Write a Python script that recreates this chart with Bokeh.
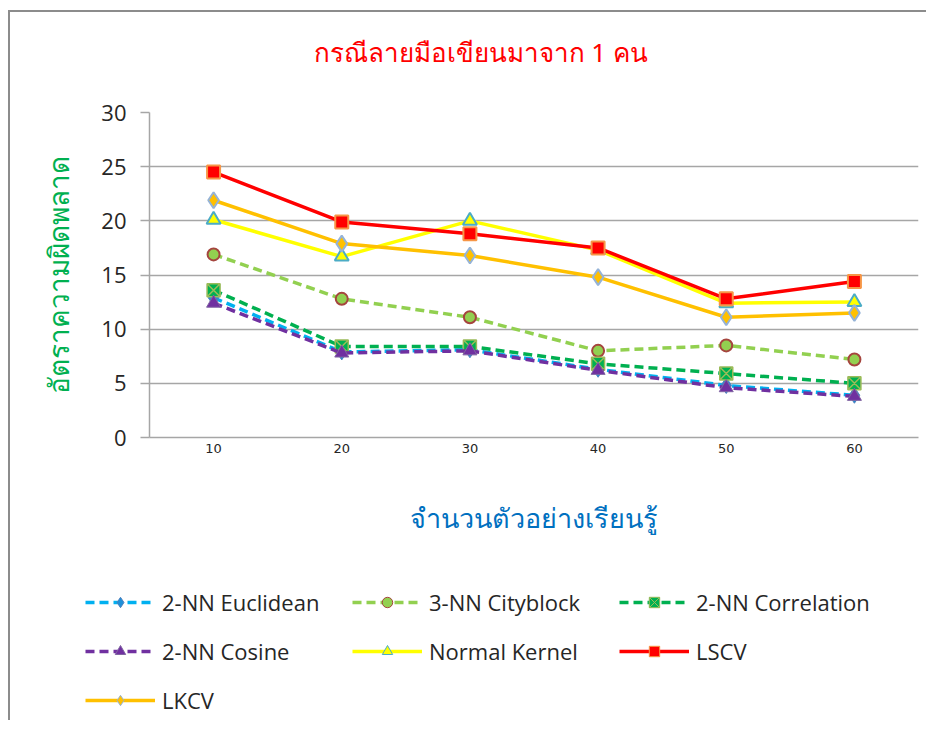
from bokeh.plotting import figure
from bokeh.models import Legend, LegendItem, Range1d, FixedTicker, Title
from bokeh.embed import file_html
from bokeh.resources import INLINE

# ---- data ----
samples = [10, 20, 30, 40, 50, 60]
euclidean_2nn = [12.9, 7.9, 8.1, 6.3, 4.8, 3.9]
cityblock_3nn = [16.9, 12.8, 11.1, 8.0, 8.5, 7.2]
correlation_2nn = [13.6, 8.4, 8.4, 6.8, 5.9, 5.0]
cosine_2nn = [12.4, 7.8, 8.0, 6.2, 4.6, 3.8]
normal_kernel = [20.1, 16.7, 20.0, 17.3, 12.4, 12.5]
lscv = [24.5, 19.9, 18.8, 17.5, 12.8, 14.4]
lkcv = [21.9, 17.9, 16.8, 14.8, 11.1, 11.5]

series_names = ["2-NN Euclidean", "3-NN Cityblock", "2-NN Correlation",
                "2-NN Cosine", "Normal Kernel", "LSCV", "LKCV"]
series_values = [euclidean_2nn, cityblock_3nn, correlation_2nn,
                 cosine_2nn, normal_kernel, lscv, lkcv]
y_ticks = [0, 5, 10, 15, 20, 25, 30]

title_text = "กรณีลายมือเขียนมาจาก 1 คน"
x_title = "จำนวนตัวอย่างเรียนรู้"
y_title = "อัตราความผิดพลาด"

# ---- styles ----
styles = [
    dict(color="#00b0f0", dash="9 5", marker="diamond", size=16, fill="#1e8fd8", line="#4f81bd", lw=1),
    dict(color="#92d050", dash="9 5", marker="circle", size=12, fill="#92d050", line="#a5453e", lw=2),
    dict(color="#00b050", dash="9 5", marker="square_x", size=13, fill="#00b050", line="#9bbb59", lw=1.5),
    dict(color="#7030a0", dash="9 5", marker="triangle", size=14, fill="#7030a0", line="#8064a2", lw=1),
    dict(color="#ffff00", dash="solid", marker="triangle", size=14, fill="#ffff00", line="#4bacc6", lw=2),
    dict(color="#ff0000", dash="solid", marker="square", size=13, fill="#ff0000", line="#f79646", lw=2),
    dict(color="#ffc000", dash="solid", marker="diamond", size=16, fill="#ffc000", line="#95b3d7", lw=2),
]

p = figure(width=918, height=548, output_backend="svg", toolbar_location=None,
           title=None,
           x_range=Range1d(5, 65), y_range=Range1d(0, 30),
           min_border_left=139, min_border_right=10,
           min_border_top=100, min_border_bottom=123)
p.styles = {"margin-left": "8px", "margin-top": "10px",
            "border-top": "2px solid #8c8c8c", "border-left": "2px solid #8c8c8c"}
p.outline_line_color = None
p.background_fill_color = "white"
p.border_fill_color = "white"

# spacer between frame and title, then the chart title
p.add_layout(Title(text=" ", text_font="Noto Sans", text_font_size="26px", standoff=0), "above")
p.add_layout(Title(text=title_text, align="left", offset=164, standoff=10,
                   text_color="#ff0000", text_font="Noto Sans",
                   text_font_size="26px", text_font_style="normal"), "above")

p.xgrid.grid_line_color = None
p.ygrid.grid_line_color = "#a6a6a6"
p.ygrid.grid_line_width = 1.5
p.ygrid.ticker = FixedTicker(ticks=y_ticks)

p.yaxis.ticker = FixedTicker(ticks=y_ticks)
p.yaxis.axis_line_color = "#a6a6a6"
p.yaxis.axis_line_width = 1.5
p.yaxis.major_tick_line_color = "#a6a6a6"
p.yaxis.major_tick_line_width = 1.5
p.yaxis.major_tick_out = 9
p.yaxis.major_tick_in = 0
p.yaxis.minor_tick_line_color = None
p.yaxis.major_label_text_font = "Open Sans"
p.yaxis.major_label_text_font_size = "22px"
p.yaxis.major_label_text_color = "#262626"
p.yaxis.major_label_standoff = 14
p.yaxis.axis_label = y_title
p.yaxis.axis_label_text_color = "#00b050"
p.yaxis.axis_label_text_font = "Noto Sans"
p.yaxis.axis_label_text_font_size = "28px"
p.yaxis.axis_label_text_font_style = "normal"
p.yaxis.axis_label_standoff = 21

p.xaxis.ticker = FixedTicker(ticks=samples)
p.xaxis.axis_line_color = "#a6a6a6"
p.xaxis.axis_line_width = 1.5
p.xaxis.major_tick_line_color = None
p.xaxis.minor_tick_line_color = None
p.xaxis.major_label_text_font = "DejaVu Sans"
p.xaxis.major_label_text_font_size = "13px"
p.xaxis.major_label_text_color = "#262626"
p.xaxis.major_label_standoff = 0
p.xaxis.axis_label = x_title
p.xaxis.axis_label_text_color = "#0070c0"
p.xaxis.axis_label_text_font = "Noto Sans"
p.xaxis.axis_label_text_font_size = "27px"
p.xaxis.axis_label_text_font_style = "normal"
p.xaxis.axis_label_standoff = 43

for vals, st in zip(series_values, styles):
    p.line(samples, vals, line_color=st["color"], line_width=3.5, line_dash=st["dash"])
    p.scatter(samples, vals, marker=st["marker"], size=st["size"],
              fill_color=st["fill"], line_color=st["line"], line_width=st["lw"])

# legend panel: a second root whose series lie outside its (empty) view
q = figure(width=918, height=162, output_backend="svg", toolbar_location=None,
           x_axis_location=None, y_axis_location=None,
           x_range=Range1d(5, 65), y_range=Range1d(-60, -30),
           min_border_left=0, min_border_right=0, min_border_top=0, min_border_bottom=0)
q.styles = {"margin-left": "8px", "border-left": "2px solid #8c8c8c"}
q.outline_line_color = None
q.xgrid.grid_line_color = None
q.ygrid.grid_line_color = None
q.border_fill_color = "white"

items = []
for name, vals, st in zip(series_names, series_values, styles):
    ln = q.line(samples, vals, line_color=st["color"], line_width=3.5, line_dash=st["dash"])
    mk = q.scatter(samples, vals, marker=st["marker"], size=st["size"],
                   fill_color=st["fill"], line_color=st["line"], line_width=1)
    items.append(LegendItem(label=name, renderers=[ln, mk]))

legend = Legend(items=items, orientation="horizontal", ncols=3,
                location=(75, 5),
                glyph_width=70, glyph_height=26, label_height=26, label_width=171,
                label_standoff=7, spacing=19, padding=0, margin=0,
                border_line_color=None, background_fill_alpha=0,
                label_text_font="Open Sans", label_text_font_size="22px",
                label_text_color="#262626")
q.add_layout(legend, "center")

open("out.html", "w").write(file_html([p, q], INLINE))
